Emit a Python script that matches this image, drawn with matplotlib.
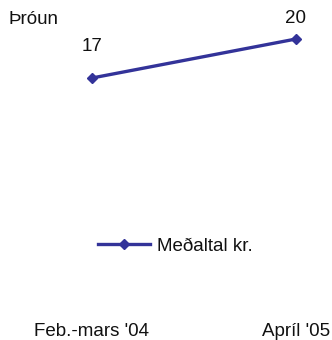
import matplotlib
matplotlib.use("Agg")
import matplotlib.pyplot as plt

plt.rcParams["font.family"] = ["Liberation Sans", "DejaVu Sans"]

categories = ["Feb.-mars '04", "Apríl '05"]
values = [17, 20]
series_name = "Meðaltal kr."
title = "Þróun"
color = "#333399"

W, H = 332, 340
fig = plt.figure(figsize=(W / 100, H / 100), dpi=100)

# axes spans full width; bottom at 315 px from top
bottom_px = 315
ax = fig.add_axes([0, (H - bottom_px) / H, 1, bottom_px / H])
x = list(range(len(categories)))
ax.plot(x, values, color=color, lw=2.4, marker="D", ms=5, label=series_name)

# x mapping: index 0 -> 92 px, index 1 -> 296 px
px_per = 204
ax.set_xlim(-92 / px_per, (W - 92) / px_per)
# y mapping: 17 -> 78 px, 20 -> 39 px
py_per = 13
ax.set_ylim(17 - (bottom_px - 78) / py_per, 17 + 78 / py_per)

# value labels sit above each point
label_offsets = [22.5, 14.5]
for xi, v, off in zip(x, values, label_offsets):
    ax.annotate(str(v), (xi, v), xytext=(0, off), textcoords="offset points",
                ha="center", va="center", fontsize=13.5, color="#111111")

ax.set_xticks(x)
ax.set_xticklabels(categories, fontsize=13.5, color="#111111")
ax.tick_params(axis="x", length=0, pad=5.5)
ax.set_yticks([])
for s in ax.spines.values():
    s.set_visible(False)

fig.text(8 / W, 1 - 19 / H, title, ha="left", va="center", fontsize=13.5, color="#111111")

ax.legend(loc="center", bbox_to_anchor=(175 / W, 1 - 246 / H),
          bbox_transform=fig.transFigure, frameon=False, fontsize=13.5,
          handlelength=2.8, handletextpad=0.35, labelcolor="#111111")

fig.savefig("out.png", dpi=100)
